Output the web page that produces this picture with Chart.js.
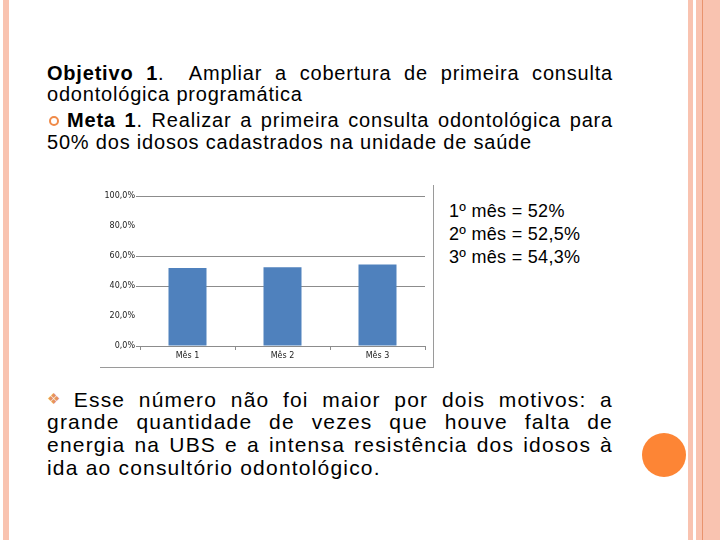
<!DOCTYPE html>
<html>
<head>
<meta charset="utf-8">
<script src="https://cdn.jsdelivr.net/npm/chart.js@4.4.1/dist/chart.umd.min.js"></script>
<style>
  html, body { margin: 0; padding: 0; }
  body { width: 720px; height: 540px; position: relative; overflow: hidden; background: #fff;
         font-family: "Liberation Sans", Arial, sans-serif; color: #000; }
  .stripe { position: absolute; top: 0; height: 540px; background: #f9c3b0; }
  .ln { position: absolute; left: 47px; width: 566px; white-space: nowrap; font-size: 20px; letter-spacing: 0.8px; }
  .p2 { font-size: 21px; letter-spacing: 1.2px; }
  .j { text-align: justify; text-align-last: justify; white-space: normal; }
  .ring { display: inline-block; box-sizing: border-box; width: 10px; height: 10px; border: 2px solid #f08a48; border-radius: 50%;
          vertical-align: 1px; margin-left: 2px; margin-right: 8px; }
  .dia { color: #e6935c; font-size: 15px; vertical-align: 3px; margin-right: 6px; }
  .res { position: absolute; left: 449px; font-size: 18px; letter-spacing: 0.3px; line-height: 23px; white-space: nowrap; }
  #box { position: absolute; left: 100px; top: 185px; width: 333px; height: 182px;
         border-right: 1px solid #9a9a9a; border-bottom: 1px solid #9a9a9a; }
</style>
</head>
<body>
<!-- moldura do slide -->
<div class="stripe" style="left:3px;width:6px"></div>
<div class="stripe" style="left:688px;width:5px"></div>
<div class="stripe" style="left:696px;width:6px"></div>
<div class="stripe" style="left:702px;width:1px;background:#e9936e"></div>
<div class="stripe" style="left:703px;width:17px"></div>
<div style="position:absolute;left:642px;top:433px;width:44px;height:44px;border-radius:50%;background:#fd8535"></div>

<div class="ln j" style="top:63px;line-height:21px"><b>Objetivo 1</b>.&nbsp; Ampliar a cobertura de primeira consulta</div>
<div class="ln" style="top:84px;line-height:21px">odontológica programática</div>
<div class="ln j" style="top:109px;line-height:22px"><span class="ring"></span><b>Meta 1</b>. Realizar a primeira consulta odontológica para</div>
<div class="ln" style="top:131px;line-height:22px">50% dos idosos cadastrados na unidade de saúde</div>

<div id="box"><canvas id="grafico"></canvas></div>

<div class="res" style="top:200px">1º mês = 52%<br>2º mês = 52,5%<br>3º mês = 54,3%</div>

<div class="ln p2 j" style="top:387px;line-height:23px"><span class="dia">❖</span>Esse número não foi maior por dois motivos: a</div>
<div class="ln p2 j" style="top:410px;line-height:23px">grande quantidade de vezes que houve falta de</div>
<div class="ln p2 j" style="top:433px;line-height:23px">energia na UBS e a intensa resistência dos idosos à</div>
<div class="ln p2" style="top:456px;line-height:23px">ida ao consultório odontológico.</div>

<script>
// Cobertura da primeira consulta odontológica programática por mês (%)
const meses = ["Mês 1", "Mês 2", "Mês 3"];
const cobertura = [52, 52.5, 54.3];
const yMax = 100;
const yStep = 20;

function pct(v) {
  return v.toFixed(1).replace(".", ",") + "%";
}

new Chart(document.getElementById("grafico").getContext("2d"), {
  type: "bar",
  data: {
    labels: meses,
    datasets: [{ data: cobertura, backgroundColor: "#4f81bd", barPercentage: 0.4, categoryPercentage: 1 }],
  },
  options: {
    responsive: true,
    maintainAspectRatio: false,
    animation: false,
    layout: { padding: { top: 11, right: 8, left: 0, bottom: 0 } },
    plugins: { legend: { display: false }, tooltip: { enabled: false } },
    scales: {
      x: {
        grid: { drawOnChartArea: false, tickLength: 4, color: "#8c8c8c" },
        border: { color: "#8c8c8c" },
        ticks: { color: "#222", font: { family: "DejaVu Sans", size: 8 }, padding: 1 },
        afterFit: (s) => { s.height = 21; },
      },
      y: {
        min: 0,
        max: yMax,
        grid: {
          tickLength: 4,
          // as linhas de 20% e 80% não aparecem no original
          color: (c) => (c.tick && (c.tick.value === 20 || c.tick.value === 80) ? "rgba(0,0,0,0)" : "#8c8c8c"),
        },
        border: { display: false },
        ticks: { stepSize: yStep, callback: (v) => pct(v), color: "#222", font: { family: "DejaVu Sans", size: 8 }, padding: 1 },
        afterFit: (s) => { s.width = 40; },
      },
    },
  },
});
</script>
</body>
</html>
